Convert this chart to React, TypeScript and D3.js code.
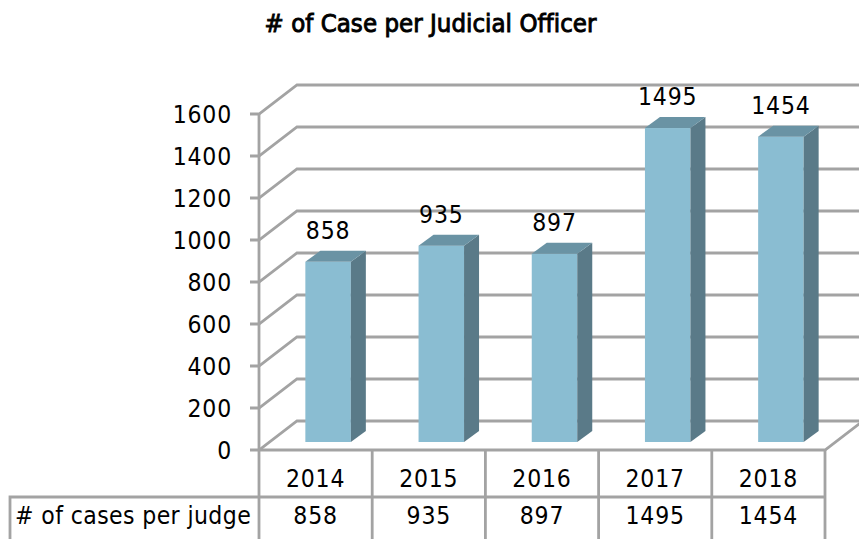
import React from "react";
import * as d3 from "d3";

const years = ["2014", "2015", "2016", "2017", "2018"];
const cases = [858, 935, 897, 1495, 1454];
const yTicks = [0, 200, 400, 600, 800, 1000, 1200, 1400, 1600];
const rowLabel = "# of cases per judge";
const title = "# of Case per Judicial Officer";

const GRID = "#a3a3a3";
const FRONT = "#8abdd2";
const SIDE = "#5a7a88";
const TOP = "#6a93a4";
const font = "'DejaVu Sans Condensed', 'DejaVu Sans', sans-serif";

const DX = 38;
const DY = -29;
const y = d3.scaleLinear().domain([0, 1600]).range([450, 114]);
const x = d3.scaleBand().domain(years).range([259, 825]);
const barW = 45.5;
const barOff = 12.5;
const bdx = 15;
const bdy = -11;
const baseY = 442;

export default function App() {
  const h = (v: number) => y(0) - y(v);
  return (
    <svg width={859} height={539} style={{ position: "absolute", left: 0, top: 0, background: "#fff" }} fontFamily={font}>
      <text x={430.5} y={31.5} textAnchor="middle" fontSize={25.5} letterSpacing={0.05} stroke="#000" strokeWidth={0.9} fill="#000">{title}</text>

      <g stroke={GRID} strokeWidth={2.8} fill="none">
        {yTicks.map((t) => (
          <path key={t} d={`M250,${y(t)}H259L${259 + DX},${y(t) + DY}H${t === 0 ? 825 + DX : 859}`} />
        ))}
        <path d={`M259,${y(1600)}V${539}`} />
        <path d={`M259,450H825L${825 + DX},${450 + DY}`} />
        {years.map((yr) => (
          <path key={yr} d={`M${(x(yr) as number) + x.bandwidth()},450V539`} />
        ))}
        <path d="M10,539V497H825" />
      </g>

      {years.map((yr, i) => {
        const x0 = (x(yr) as number) + (x.bandwidth() - barW) / 2 + barOff;
        const top = baseY - h(cases[i]);
        return (
          <g key={yr}>
            <rect x={x0} y={top} width={barW} height={h(cases[i])} fill={FRONT} />
            <path d={`M${x0 + barW},${top}l${bdx},${bdy}V${baseY + bdy}L${x0 + barW},${baseY}Z`} fill={SIDE} />
            <path d={`M${x0},${top}l${bdx},${bdy}h${barW}l${-bdx},${-bdy}Z`} fill={TOP} />
            <text x={x0 + barW / 2} y={top - 23} textAnchor="middle" fontSize={24.5} letterSpacing={0.8} fill="#000">{cases[i]}</text>
          </g>
        );
      })}

      <g fontSize={24.5} letterSpacing={0.8} fill="#000">
        {yTicks.map((t) => (
          <text key={t} x={232} y={y(t) + 8.7} textAnchor="end">{t}</text>
        ))}
        {years.map((yr, i) => {
          const cx = (x(yr) as number) + x.bandwidth() / 2;
          return (
            <g key={yr} textAnchor="middle">
              <text x={cx} y={487}>{yr}</text>
              <text x={cx} y={524}>{cases[i]}</text>
            </g>
          );
        })}
        <text x={15} y={524} letterSpacing={0.4}>{rowLabel}</text>
      </g>
    </svg>
  );
}
